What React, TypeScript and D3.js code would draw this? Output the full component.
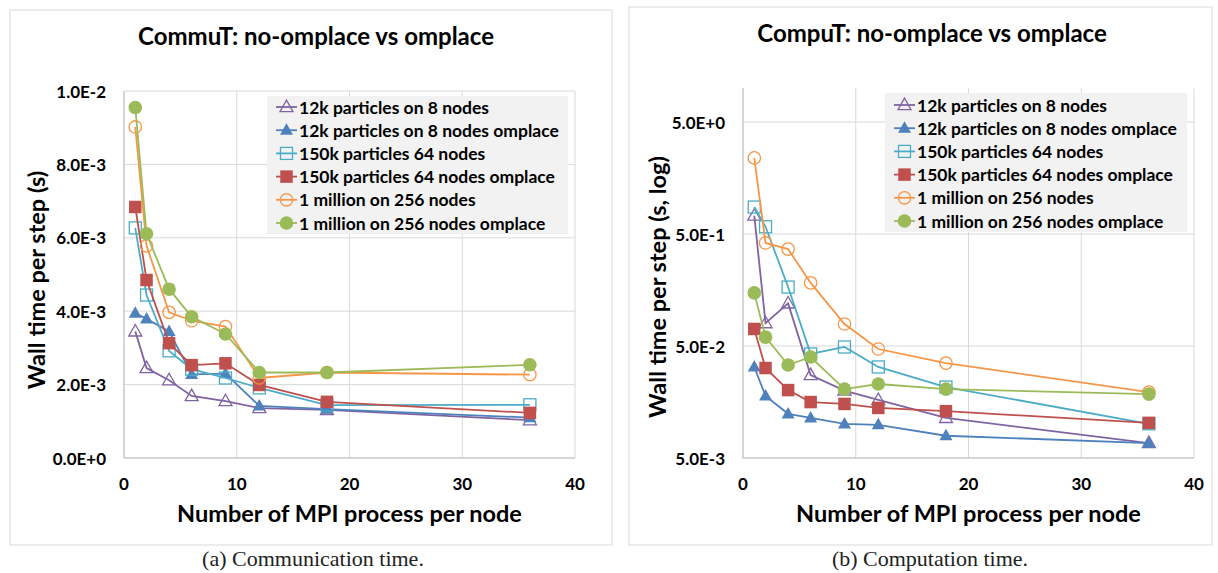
import React from "react";
import * as d3 from "d3";

const xVals = [1, 2, 4, 6, 9, 12, 18, 36];
const seriesNames = [
  "12k particles on 8 nodes",
  "12k particles on 8 nodes omplace",
  "150k particles 64 nodes",
  "150k particles 64 nodes omplace",
  "1 million on 256 nodes",
  "1 million on 256 nodes omplace",
];

// Communication time (s)
const commu12k = [3.45e-3, 2.45e-3, 2.12e-3, 1.69e-3, 1.55e-3, 1.36e-3, 1.31e-3, 1.03e-3];
const commu12kOmp = [3.95e-3, 3.79e-3, 3.45e-3, 2.28e-3, 2.3e-3, 1.42e-3, 1.33e-3, 1.1e-3];
const commu150k = [6.27e-3, 4.44e-3, 2.92e-3, 2.42e-3, 2.18e-3, 1.91e-3, 1.44e-3, 1.45e-3];
const commu150kOmp = [6.84e-3, 4.85e-3, 3.13e-3, 2.53e-3, 2.58e-3, 1.99e-3, 1.53e-3, 1.23e-3];
const commu1m = [9.02e-3, 5.78e-3, 3.97e-3, 3.74e-3, 3.58e-3, 2.18e-3, 2.33e-3, 2.27e-3];
const commu1mOmp = [9.55e-3, 6.11e-3, 4.6e-3, 3.85e-3, 3.38e-3, 2.33e-3, 2.33e-3, 2.54e-3];

// Computation time (s)
const compu12k = [0.73, 0.08, 0.12, 0.0275, 0.02, 0.0165, 0.0114, 0.0068];
const compu12kOmp = [0.0325, 0.0179, 0.0124, 0.0114, 0.0101, 0.0099, 0.0079, 0.0068];
const compu150k = [0.87, 0.58, 0.168, 0.0425, 0.049, 0.0325, 0.0215, 0.0101];
const compu150kOmp = [0.071, 0.0318, 0.0202, 0.0158, 0.0152, 0.014, 0.0131, 0.0103];
const compu1m = [2.39, 0.416, 0.367, 0.183, 0.0786, 0.047, 0.0352, 0.0194];
const compu1mOmp = [0.149, 0.06, 0.0338, 0.0399, 0.0206, 0.0229, 0.0206, 0.0186];

const xTicks = [0, 10, 20, 30, 40];
const commuYTicks = [0, 0.002, 0.004, 0.006, 0.008, 0.01];
const commuYLabels = ["0.0E+0", "2.0E-3", "4.0E-3", "6.0E-3", "8.0E-3", "1.0E-2"];
const compuYTicks = [0.005, 0.05, 0.5, 5];
const compuYLabels = ["5.0E-3", "5.0E-2", "5.0E-1", "5.0E+0"];

const colors = ["#8064A2", "#4F81BD", "#4BACC6", "#C0504D", "#F79646", "#9BBB59"];
const shapes = ["triOpen", "tri", "sqOpen", "sq", "circOpen", "circ"];

const FONT = "Lato, 'Open Sans', sans-serif";
const GRID = "#d9d9d9";

function Marker({ shape, color, x, y }: { shape: string; color: string; x: number; y: number }) {
  const open = shape.endsWith("Open");
  const fill = open ? "none" : color;
  const sw = open ? 1.3 : 0;
  if (shape.startsWith("tri")) {
    const s = 13, h = 11.5;
    const d = `M${x},${y - h * 0.6}L${x + s / 2},${y + h * 0.4}L${x - s / 2},${y + h * 0.4}Z`;
    return <path d={d} fill={fill} stroke={color} strokeWidth={sw} />;
  }
  if (shape.startsWith("sq")) {
    const s = open ? 12 : 12.5;
    return <rect x={x - s / 2} y={y - s / 2} width={s} height={s} fill={fill} stroke={color} strokeWidth={sw} />;
  }
  return <circle cx={x} cy={y} r={open ? 6.2 : 6.8} fill={fill} stroke={color} strokeWidth={sw} />;
}

type PanelProps = {
  frame: [number, number, number, number];
  title: string;
  titleX: number;
  titleY: number;
  plot: { left: number; right: number; top: number; bottom: number };
  yScale: any;
  yTicks: number[];
  yLabels: string[];
  yTitle: string;
  yTitleX: number;
  yTitleY: number;
  legend: { x: number; y: number; w: number; h: number; y0: number; dy: number };
  data: number[][];
  caption: string;
  captionX: number;
};

function Panel(p: PanelProps) {
  const x = d3.scaleLinear().domain([0, 40]).range([p.plot.left, p.plot.right]);
  const y = p.yScale;
  const line = d3
    .line<number>()
    .x((_, i) => x(xVals[i]))
    .y((v) => y(v));
  return (
    <g>
      <rect x={p.frame[0]} y={p.frame[1]} width={p.frame[2]} height={p.frame[3]} fill="#fff" stroke={GRID} strokeWidth={1} />
      <text x={p.titleX} y={p.titleY} textAnchor="middle" dominantBaseline="central" fontFamily={FONT} fontWeight="bold" fontSize={24} fill="#000">
        {p.title}
      </text>
      {/* grid */}
      {xTicks.map((t) => (
        <line key={"gx" + t} x1={x(t)} x2={x(t)} y1={p.plot.top} y2={p.plot.bottom} stroke={GRID} strokeWidth={1} />
      ))}
      {p.yTicks.map((t) => (
        <line key={"gy" + t} x1={p.plot.left} x2={p.plot.right} y1={y(t)} y2={y(t)} stroke={GRID} strokeWidth={1} />
      ))}
      <line x1={p.plot.left} x2={p.plot.right} y1={p.plot.bottom} y2={p.plot.bottom} stroke="#bfbfbf" strokeWidth={1} />
      <line x1={p.plot.left} x2={p.plot.left} y1={p.plot.top} y2={p.plot.bottom} stroke="#bfbfbf" strokeWidth={1} />
      {/* tick labels */}
      {p.yTicks.map((t, i) => (
        <text key={"ty" + t} x={p.plot.left - 18} y={y(t)} textAnchor="end" dominantBaseline="central" fontFamily={FONT} fontWeight="bold" fontSize={17} fill="#000">
          {p.yLabels[i]}
        </text>
      ))}
      {xTicks.map((t) => (
        <text key={"tx" + t} x={x(t)} y={483} textAnchor="middle" dominantBaseline="central" fontFamily={FONT} fontWeight="bold" fontSize={17} fill="#000">
          {t}
        </text>
      ))}
      <text x={(p.plot.left + p.plot.right) / 2} y={513} textAnchor="middle" dominantBaseline="central" fontFamily={FONT} fontWeight="bold" fontSize={23.5} fill="#000">
        Number of MPI process per node
      </text>
      <text
        transform={`translate(${p.yTitleX},${p.yTitleY}) rotate(-90)`}
        textAnchor="middle"
        dominantBaseline="central"
        fontFamily={FONT}
        fontWeight="bold"
        fontSize={23.5}
        fill="#000"
      >
        {p.yTitle}
      </text>
      {/* series */}
      {p.data.map((vals, si) => (
        <g key={"s" + si}>
          <path d={line(vals) || ""} fill="none" stroke={colors[si]} strokeWidth={1.8} />
          {vals.map((v, i) => (
            <Marker key={i} shape={shapes[si]} color={colors[si]} x={x(xVals[i])} y={y(v)} />
          ))}
        </g>
      ))}
      {/* legend */}
      <rect x={p.legend.x} y={p.legend.y} width={p.legend.w} height={p.legend.h} fill="#f2f2f2" />
      {seriesNames.map((n, i) => {
        const ly = p.legend.y0 + i * p.legend.dy;
        const lx = p.legend.x + 9;
        return (
          <g key={"l" + i}>
            <line x1={lx} x2={lx + 21} y1={ly} y2={ly} stroke={colors[i]} strokeWidth={1.8} />
            <Marker shape={shapes[i]} color={colors[i]} x={lx + 10.5} y={ly} />
            <text x={lx + 23} y={ly} dominantBaseline="central" fontFamily={FONT} fontWeight="bold" fontSize={17.5} fill="#000">
              {n}
            </text>
          </g>
        );
      })}
      <text x={p.captionX} y={566} textAnchor="middle" fontFamily="'Liberation Serif', serif" fontSize={22} fill="#222">
        {p.caption}
      </text>
    </g>
  );
}

export default function App() {
  const commuY = d3.scaleLinear().domain([0, 0.01]).range([458, 91]);
  const compuY = d3.scaleLog().domain([0.005, 10]).range([458, 88.3]);
  return (
    <svg width={1218} height={573} style={{ position: "absolute", left: 0, top: 0, background: "#fff" }}>
      <Panel
        frame={[10, 10, 602, 535]}
        title="CommuT: no-omplace vs omplace"
        titleX={316}
        titleY={35}
        plot={{ left: 124, right: 575, top: 91, bottom: 458 }}
        yScale={commuY}
        yTicks={commuYTicks}
        yLabels={commuYLabels}
        yTitle="Wall time per step (s)"
        yTitleX={36}
        yTitleY={280}
        legend={{ x: 267, y: 96, w: 301, h: 138, y0: 107, dy: 23.2 }}
        data={[commu12k, commu12kOmp, commu150k, commu150kOmp, commu1m, commu1mOmp]}
        caption="(a) Communication time."
        captionX={313}
      />
      <Panel
        frame={[629, 7, 583, 538]}
        title="CompuT: no-omplace vs omplace"
        titleX={932}
        titleY={32}
        plot={{ left: 743, right: 1194, top: 88.3, bottom: 458 }}
        yScale={compuY}
        yTicks={compuYTicks}
        yLabels={compuYLabels}
        yTitle="Wall time per step (s, log)"
        yTitleX={657}
        yTitleY={287}
        legend={{ x: 885, y: 93, w: 302, h: 139, y0: 105, dy: 23.2 }}
        data={[compu12k, compu12kOmp, compu150k, compu150kOmp, compu1m, compu1mOmp]}
        caption="(b) Computation time."
        captionX={930}
      />
    </svg>
  );
}
